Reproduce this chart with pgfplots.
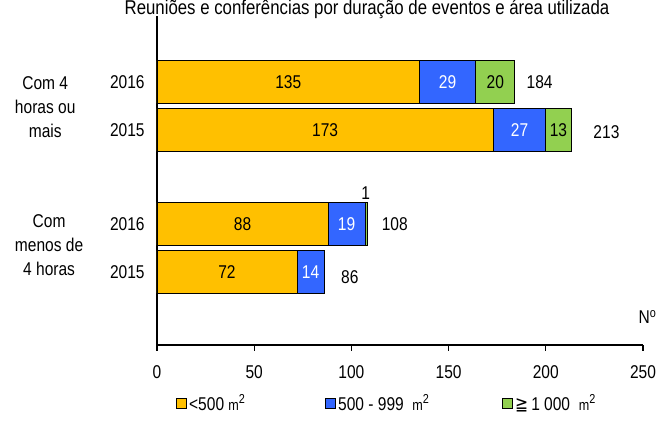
\documentclass[border=0pt]{standalone}
\usepackage{fontspec}
\setmainfont{Liberation Sans}[FakeStretch=0.84]
\newfontfamily\djv{DejaVu Sans}[FakeStretch=0.84]
\usepackage{pgfplots}
\pgfplotsset{compat=1.18}
\definecolor{cOr}{RGB}{255,192,0}
\definecolor{cBl}{RGB}{51,102,255}
\definecolor{cGr}{RGB}{146,208,80}
\begin{document}
\fontsize{18.5}{24}\selectfont
\begin{tikzpicture}[x=1pt,y=1pt]
\useasboundingbox (0,0) rectangle (661,435);
\node[anchor=base,font=\fontsize{20}{24}\selectfont] at (367,420) {Reuniões e conferências por duração de eventos e área utilizada};
\begin{axis}[
  at={(157pt,90pt)}, anchor=south west,
  scale only axis, width=486pt, height=329pt,
  xbar stacked, bar width=43,
  xmin=0, xmax=250, ymin=0, ymax=329,
  axis lines=left,
  axis line style={-, line width=1.2pt, black},
  xtick={0,50,100,150,200,250},
  ytick={73,121,215,263},
  yticklabels={2015,2016,2015,2016},
  y tick style={draw=none},
  x tick style={line width=1.2pt, black},
  tick align=outside,
  major tick length=6pt,
  xticklabel style={yshift=-8pt},
  clip=false,
  /pgf/number format/assume math mode=true,
  tick label style={font=\fontsize{18.5}{22}\selectfont},
  every axis plot post/.append style={legend image code/.code={\draw[#1,line width=1pt] (0pt,-5pt) rectangle (10pt,5pt);}},
  legend columns=3,
  legend style={draw=none, at={(0.039,-0.179)}, anchor=west, inner sep=0pt, font=\fontsize{18.5}{22}\selectfont},
  legend cell align=left,
  after end axis/.code={
    \node at (axis cs:67.5,263) {135};
    \node[white] at (axis cs:149.5,263) {29};
    \node at (axis cs:174,263) {20};
    \node at (axis cs:86.5,215) {173};
    \node[white] at (axis cs:186.5,215) {27};
    \node at (axis cs:206.5,215) {13};
    \node at (axis cs:44,121) {88};
    \node[white] at (axis cs:97.5,121) {19};
    \node at (axis cs:36,73) {72};
    \node[white] at (axis cs:79,73) {14};
  },
]
\addplot[fill=cOr, draw=black, line width=0.9pt] coordinates {(72,73) (88,121) (173,215) (135,263)};
\addlegendentry{\makebox[134pt][l]{<500 {\fontsize{15}{18}\selectfont m}\textsuperscript{2}}}
\addplot[fill=cBl, draw=black, line width=0.9pt] coordinates {(14,73) (19,121) (27,215) (29,263)};
\addlegendentry{\makebox[162pt][l]{500 - 999\ \ {\fontsize{15}{18}\selectfont m}\textsuperscript{2}}}
\addplot[fill=cGr, draw=black, line width=0.9pt] coordinates {(0,73) (1,121) (13,215) (20,263)};
\addlegendentry{{\djv ≧}\,1 000\ \ {\fontsize{15}{18}\selectfont m}\textsuperscript{2}}

\node at (axis cs:196.8,263) {184};
\node at (axis cs:231.2,213) {213};
\node at (axis cs:122.3,121) {108};
\node at (axis cs:99.2,68) {86};
\node at (axis cs:107.4,152) {1};
\node at (axis cs:252.3,28) {N\textsuperscript{o}};

\node[align=center] at (axis cs:-57.5,238) {Com 4\\horas ou\\mais};
\node[align=center] at (axis cs:-55.5,100) {Com\\menos de\\4 horas};
\end{axis}
\end{tikzpicture}
\end{document}
